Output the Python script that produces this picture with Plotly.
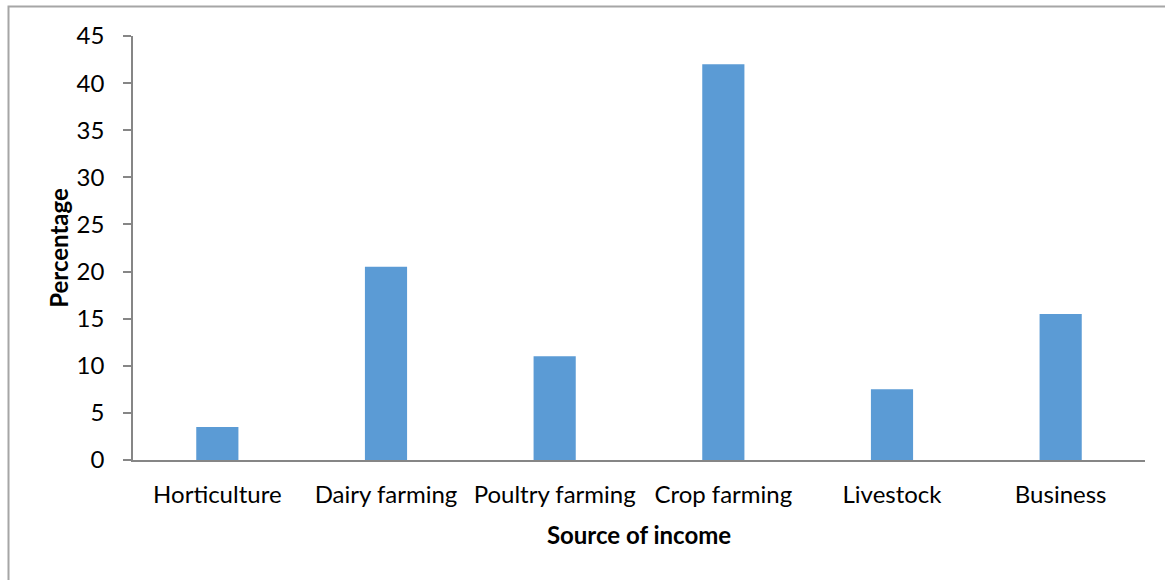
import plotly.graph_objects as go

categories = ["Horticulture", "Dairy farming", "Poultry farming", "Crop farming", "Livestock", "Business"]
values = [3.5, 20.5, 11, 42, 7.5, 15.5]
y_ticks = [0, 5, 10, 15, 20, 25, 30, 35, 40, 45]

L, R, T, B = 133, 20, 36, 120
W, H = 1165, 580
pw, ph = W - L - R, H - T - B

def px_x(p):
    return (p - L) / pw

def px_y(p):
    return (H - B - p) / ph

FS = 24

fig = go.Figure(go.Bar(x=categories, y=values, marker_color="#5b9bd5",
                       marker_line_width=0, width=0.25))

fig.update_layout(
    width=W, height=H,
    margin=dict(l=L, r=R, t=T, b=B),
    paper_bgcolor="white", plot_bgcolor="white",
    font=dict(family="Lato, Open Sans, sans-serif", size=FS, color="#000000"),
    showlegend=False,
    bargap=0.75,
    xaxis=dict(
        showline=True, linecolor="#868686", linewidth=1.5,
        ticks="", showgrid=False, tickfont=dict(size=FS),
        ticklabelstandoff=12,
        title=dict(text="<b>Source of income</b>", font=dict(size=FS), standoff=21),
    ),
    yaxis=dict(
        range=[0, 45], tickvals=y_ticks, showline=True, linecolor="#868686", linewidth=1.5,
        ticks="outside", ticklen=8, tickcolor="#868686", tickwidth=1.5,
        ticklabelstandoff=14,
        showgrid=False, zeroline=False, tickfont=dict(size=FS),
        title=dict(text="<b>Percentage</b>", font=dict(size=FS), standoff=1),
    ),
    shapes=[dict(type="rect", xref="paper", yref="paper",
                 x0=px_x(8.5), x1=px_x(1168), y0=px_y(583), y1=px_y(6.5),
                 line=dict(color="#a6a6a6", width=2), fillcolor="rgba(0,0,0,0)", layer="below")],
)

fig.write_html("out.html")
